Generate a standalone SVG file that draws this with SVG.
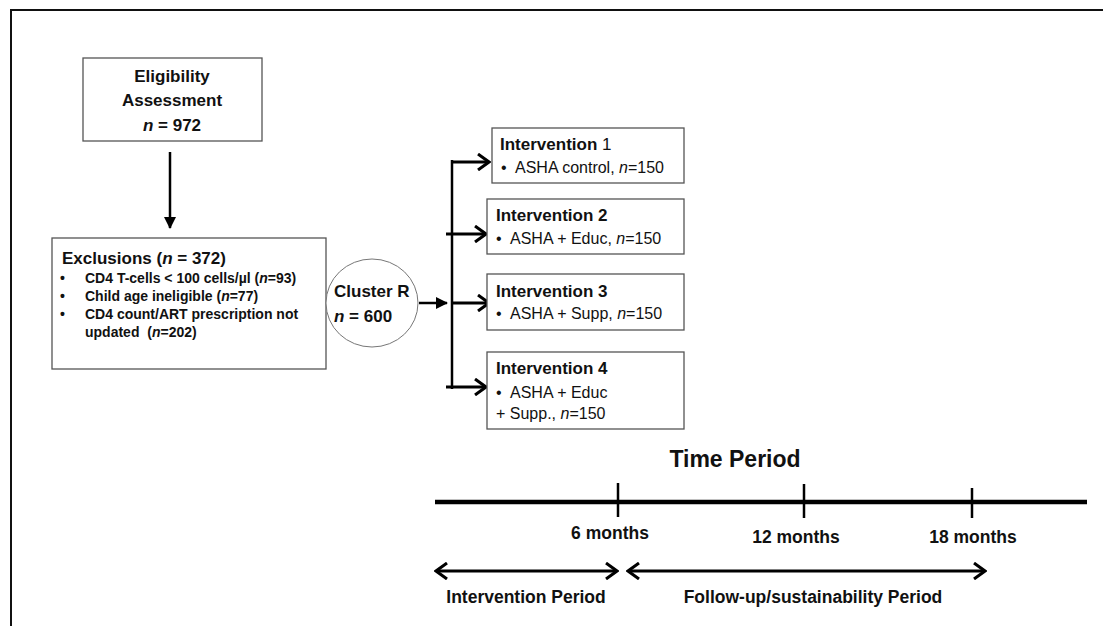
<svg xmlns="http://www.w3.org/2000/svg" width="1103" height="626" viewBox="0 0 1103 626">
<style>
.box{fill:#fff;stroke:#555;stroke-width:1.3}
.t{font-family:"Liberation Sans",Arial,sans-serif;fill:#111}
.b{font-weight:bold}
.ln{fill:none;stroke:#000;stroke-linecap:butt}
</style>
<defs>
<marker id="chev" markerUnits="userSpaceOnUse" viewBox="0 0 14 18" refX="12" refY="9" markerWidth="14" markerHeight="18" orient="auto-start-reverse">
<path d="M1,1 L12,9 L1,17" fill="none" stroke="#000" stroke-width="3"/>
</marker>
<marker id="tri" markerUnits="userSpaceOnUse" viewBox="0 0 12 12" refX="11" refY="6" markerWidth="12" markerHeight="12" orient="auto">
<path d="M0,0 L12,6 L0,12 Z" fill="#000"/>
</marker>
</defs>
<rect width="1103" height="626" fill="#fff"/>
<path d="M11,626 V10 H1103" fill="none" stroke="#111" stroke-width="2"/>
<g id="connectors">
<line class="ln" x1="170" y1="152" x2="170" y2="228" stroke-width="2.5" marker-end="url(#tri)"/>
<line class="ln" x1="419" y1="303" x2="447" y2="303" stroke-width="2.5" marker-end="url(#tri)"/>
<line class="ln" x1="452" y1="160" x2="452" y2="389" stroke-width="2.5"/>
<line class="ln" x1="451" y1="162" x2="489" y2="162" stroke-width="3" marker-end="url(#chev)"/>
<line class="ln" x1="446" y1="234" x2="486" y2="234" stroke-width="3" marker-end="url(#chev)"/>
<line class="ln" x1="451" y1="303" x2="489" y2="303" stroke-width="3" marker-end="url(#chev)"/>
<line class="ln" x1="446" y1="387" x2="486" y2="387" stroke-width="3" marker-end="url(#chev)"/>
</g>
<g id="eligibility">
<rect class="box" x="83" y="58" width="179" height="83"/>
<text class="t b" x="172" y="82" font-size="17" text-anchor="middle">Eligibility</text>
<text class="t b" x="172" y="106" font-size="17" text-anchor="middle">Assessment</text>
<text class="t b" x="172" y="131" font-size="17" text-anchor="middle"><tspan font-style="italic">n</tspan> = 972</text>
</g>
<g id="exclusions">
<rect class="box" x="52" y="238" width="274" height="131"/>
<text class="t b" x="62" y="264" font-size="17">Exclusions (<tspan font-style="italic">n</tspan> = 372)</text>
<g class="t b" font-size="14">
<text x="60" y="283">•</text><text x="85" y="283">CD4 T-cells &lt; 100 cells/µl (<tspan font-style="italic">n</tspan>=93)</text>
<text x="60" y="301">•</text><text x="85" y="301">Child age ineligible (<tspan font-style="italic">n</tspan>=77)</text>
<text x="60" y="319">•</text><text x="85" y="319">CD4 count/ART prescription not</text>
<text x="85" y="337" xml:space="preserve">updated  (<tspan font-style="italic">n</tspan>=202)</text>
</g>
</g>
<g id="cluster">
<ellipse cx="372" cy="303" rx="46" ry="44" fill="#fff" stroke="#777" stroke-width="1"/>
<text class="t b" x="334" y="297" font-size="17">Cluster R</text>
<text class="t b" x="334" y="322" font-size="17"><tspan font-style="italic">n</tspan> = 600</text>
</g>
<g id="int1">
<rect class="box" x="492" y="128" width="192" height="55"/>
<text class="t" x="500" y="150" font-size="17"><tspan class="b">Intervention</tspan> 1</text>
<text class="t" x="501" y="173" font-size="16">•</text>
<text class="t" x="515" y="173" font-size="16">ASHA control, <tspan font-style="italic">n</tspan>=150</text>
</g>
<g id="int2">
<rect class="box" x="487" y="199" width="197" height="55"/>
<text class="t b" x="496" y="221" font-size="17">Intervention 2</text>
<text class="t" x="496" y="244" font-size="16">•</text>
<text class="t" x="510" y="244" font-size="16">ASHA + Educ, <tspan font-style="italic">n</tspan>=150</text>
</g>
<g id="int3">
<rect class="box" x="487" y="274" width="197" height="56"/>
<text class="t b" x="496" y="297" font-size="17">Intervention 3</text>
<text class="t" x="496" y="319" font-size="16">•</text>
<text class="t" x="510" y="319" font-size="16">ASHA + Supp, <tspan font-style="italic">n</tspan>=150</text>
</g>
<g id="int4">
<rect class="box" x="487" y="352" width="197" height="77"/>
<text class="t b" x="496" y="374" font-size="17">Intervention 4</text>
<text class="t" x="496" y="398" font-size="16">•</text>
<text class="t" x="510" y="398" font-size="16">ASHA + Educ</text>
<text class="t" x="496" y="419" font-size="16">+ Supp., <tspan font-style="italic">n</tspan>=150</text>
</g>
<g id="timeline">
<text class="t b" x="735" y="467" font-size="23" text-anchor="middle">Time Period</text>
<line class="ln" x1="435" y1="502" x2="1087" y2="502" stroke-width="4.5"/>
<line class="ln" x1="618" y1="483" x2="618" y2="517" stroke-width="2.5"/>
<line class="ln" x1="804" y1="484" x2="804" y2="518" stroke-width="2.5"/>
<line class="ln" x1="972" y1="488" x2="972" y2="518" stroke-width="2.5"/>
<text class="t b" x="610" y="539" font-size="17.5" text-anchor="middle">6 months</text>
<text class="t b" x="796" y="543" font-size="17.5" text-anchor="middle">12 months</text>
<text class="t b" x="973" y="543" font-size="17.5" text-anchor="middle">18 months</text>
<line class="ln" x1="436" y1="571" x2="617" y2="571" stroke-width="3" marker-start="url(#chev)" marker-end="url(#chev)"/>
<line class="ln" x1="628" y1="571" x2="985" y2="571" stroke-width="3" marker-start="url(#chev)" marker-end="url(#chev)"/>
<text class="t b" x="526" y="603" font-size="17.5" text-anchor="middle">Intervention Period</text>
<text class="t b" x="813" y="603" font-size="17.5" text-anchor="middle">Follow-up/sustainability Period</text>
</g>
</svg>
